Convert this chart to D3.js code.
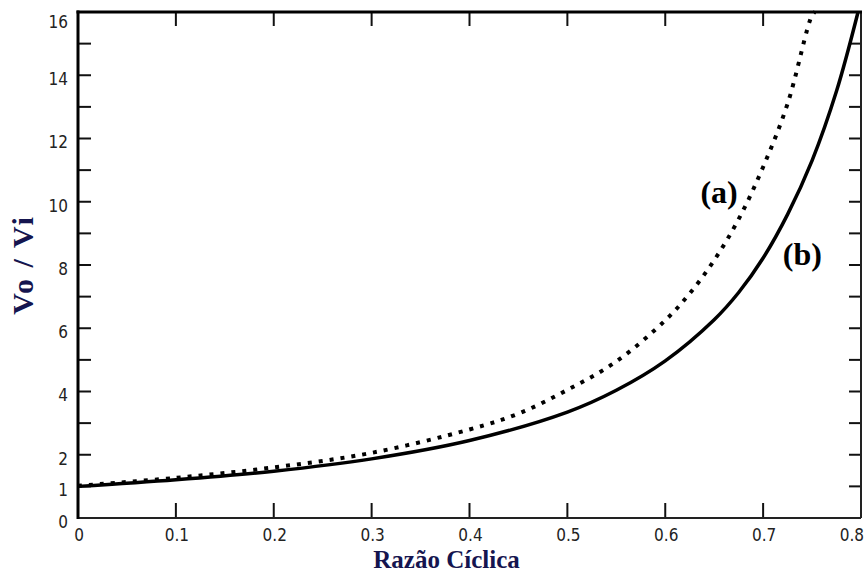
<!DOCTYPE html>
<html>
<head>
<meta charset="utf-8">
<script src="https://cdn.jsdelivr.net/npm/d3@7"></script>
<style>
  html, body { margin: 0; padding: 0; background: #fff; }
  svg { display: block; }
  .tick-label { font-family: "Liberation Sans Narrow", "DejaVu Sans Condensed", "Liberation Sans", sans-serif; font-size: 17px; fill: #222; }
  .axis-title { font-family: "Liberation Serif", "Times New Roman", serif; font-weight: bold; fill: #15154f; }
  .curve-label { font-family: "Liberation Serif", "Times New Roman", serif; font-weight: bold; font-size: 32px; fill: #000; }
</style>
</head>
<body>
<svg id="chart" width="865" height="574"></svg>
<script>
// Duty cycle (Razão Cíclica) vs. voltage gain Vo/Vi for two converters
const dutyA = [0, 0.1, 0.2, 0.3, 0.4, 0.45, 0.5, 0.55, 0.6, 0.625, 0.65, 0.675, 0.7, 0.725, 0.75, 0.753];
const gainA = [1.02, 1.27, 1.6, 2.06, 2.8, 3.3, 4.05, 4.95, 6.25, 7.1, 8.15, 9.45, 11.1, 13.1, 15.9, 16.0];

const dutyB = [0, 0.1, 0.2, 0.3, 0.4, 0.5, 0.55, 0.6, 0.65, 0.675, 0.7, 0.725, 0.75, 0.775, 0.797];
const gainB = [1.0, 1.21, 1.48, 1.87, 2.45, 3.35, 4.04, 4.97, 6.27, 7.13, 8.22, 9.6, 11.3, 13.5, 16.0];

const xTickValues = [0, 0.1, 0.2, 0.3, 0.4, 0.5, 0.6, 0.7, 0.8];
const xTickLabels = ["0", "0.1", "0.2", "0.3", "0.4", "0.5", "0.6", "0.7", "0.8"];
const yTickValues = [0, 1, 2, 4, 6, 8, 10, 12, 14, 16];
const yTickLabels = ["0", "1", "2", "4", "6", "8", "10", "12", "14", "16"];
const yMinorTicks = d3.range(1, 16);

const curveNames = ["(a)", "(b)"];
const xTitle = "Razão Cíclica";
const yTitle = "Vo / Vi";

const W = 865, H = 574;
const margin = { top: 12, right: 4, bottom: 56, left: 78 };
const svg = d3.select("#chart");

const x = d3.scaleLinear().domain([0, 0.8]).range([margin.left, W - margin.right]);
const y = d3.scaleLinear().domain([0, 16]).range([H - margin.bottom, margin.top]);

const x0 = x(0), x1 = x(0.8), y0 = y(0), y1 = y(16);

// inward tick marks on all four sides
const tickG = svg.append("g").attr("stroke", "#111").attr("stroke-width", 2);
xTickValues.slice(1, -1).forEach(v => {
  tickG.append("line").attr("x1", x(v)).attr("x2", x(v)).attr("y1", y0).attr("y2", y0 - 15);
  tickG.append("line").attr("x1", x(v)).attr("x2", x(v)).attr("y1", y1).attr("y2", y1 + 14);
});
yMinorTicks.forEach(v => {
  tickG.append("line").attr("x1", x0).attr("x2", x0 + 13).attr("y1", y(v)).attr("y2", y(v));
  tickG.append("line").attr("x1", x1).attr("x2", x1 - 12).attr("y1", y(v)).attr("y2", y(v));
});

// frame
svg.append("line").attr("x1", x0).attr("x2", x1).attr("y1", y0).attr("y2", y0).attr("stroke", "#222").attr("stroke-width", 2);
svg.append("line").attr("x1", x1).attr("x2", x1).attr("y1", y0).attr("y2", y1).attr("stroke", "#222").attr("stroke-width", 2);
svg.append("line").attr("x1", x0 - 1.5).attr("x2", x1 + 1).attr("y1", y1).attr("y2", y1).attr("stroke", "#000").attr("stroke-width", 3);
svg.append("line").attr("x1", x0).attr("x2", x0).attr("y1", y0 + 1).attr("y2", y1 - 1.5).attr("stroke", "#000").attr("stroke-width", 3);

// tick labels
xTickValues.forEach((v, i) => {
  const last = i === xTickValues.length - 1;
  svg.append("text").attr("class", "tick-label")
    .attr("x", last ? x(v) + 3 : x(v) + 1)
    .attr("y", y0 + 17)
    .attr("dy", "0.35em")
    .attr("text-anchor", last ? "end" : "middle")
    .text(xTickLabels[i]);
});
yTickValues.forEach((v, i) => {
  svg.append("text").attr("class", "tick-label")
    .attr("x", x0 - 10)
    .attr("y", Math.max(y(v) + 4, y1 + 10))
    .attr("dy", "0.35em")
    .attr("text-anchor", "end")
    .text(yTickLabels[i]);
});

// axis titles
svg.append("text").attr("class", "axis-title")
  .attr("x", (x0 + x1) / 2 - 23).attr("y", H - 6)
  .attr("font-size", 25)
  .attr("text-anchor", "middle").text(xTitle);
svg.append("text").attr("class", "axis-title")
  .attr("transform", `translate(${33},${(y0 + y1) / 2}) rotate(-90)`)
  .attr("font-size", 30)
  .attr("letter-spacing", 2)
  .attr("text-anchor", "middle").text(yTitle);

// curves
const line = d3.line().x(d => x(d[0])).y(d => y(d[1])).curve(d3.curveCatmullRom.alpha(0.5));
const ptsA = dutyA.map((d, i) => [d, gainA[i]]);
const ptsB = dutyB.map((d, i) => [d, gainB[i]]);

svg.append("path").datum(ptsA).attr("d", line)
  .attr("fill", "none").attr("stroke", "#000").attr("stroke-width", 4)
  .attr("stroke-dasharray", "4,7");
svg.append("path").datum(ptsB).attr("d", line)
  .attr("fill", "none").attr("stroke", "#000").attr("stroke-width", 3.5);

// curve labels
svg.append("text").attr("class", "curve-label")
  .attr("x", x(0.655)).attr("y", y(10.28)).attr("text-anchor", "middle").attr("dy", "0.33em")
  .text(curveNames[0]);
svg.append("text").attr("class", "curve-label")
  .attr("x", x(0.74)).attr("y", y(8.32)).attr("text-anchor", "middle").attr("dy", "0.33em")
  .text(curveNames[1]);
</script>
</body>
</html>
